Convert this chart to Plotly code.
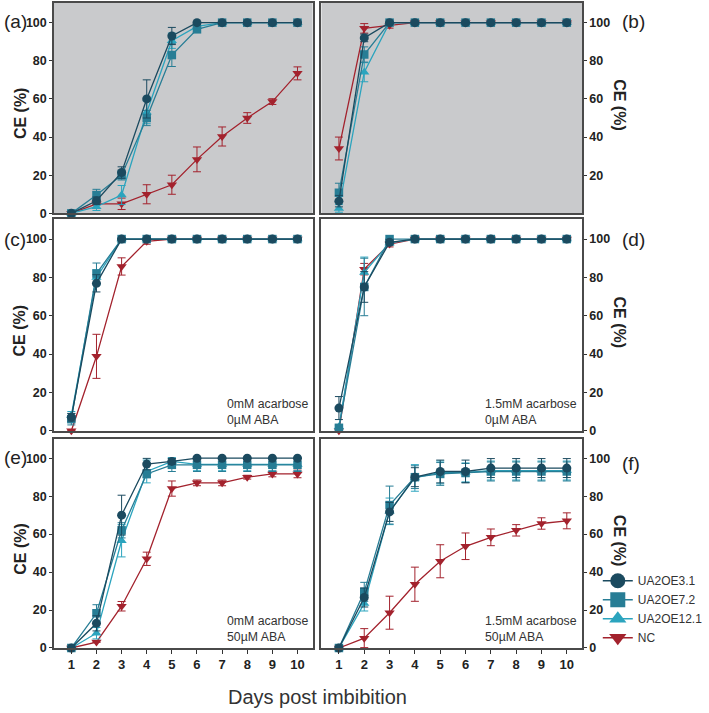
import plotly.graph_objects as go
from plotly.subplots import make_subplots

days = list(range(1, 11))
series_names = ["UA2OE3.1", "UA2OE7.2", "UA2OE12.1", "NC"]
panel_labels = ["(a)", "(b)", "(c)", "(d)", "(e)", "(f)"]
conditions = [None, None,
              "0mM acarbose<br>0µM ABA", "1.5mM acarbose<br>0µM ABA",
              "0mM acarbose<br>50µM ABA", "1.5mM acarbose<br>50µM ABA"]
y_ticks_left = [0, 20, 40, 60, 80, 100]
y_ticks_b = [20, 40, 60, 80, 100]
x_title = "Days post imbibition"
y_title = "CE (%)"

# ---- panel (a)
a_ua31 = [0, 6.6, 21.4, 60, 93, 100, 100, 100, 100, 100]
a_ua31_err = [0, 2, 3, 10, 4.5, 0, 0, 0, 0, 0]
a_ua72 = [0, 9.6, 20, 50, 83, 96.5, 100, 100, 100, 100]
a_ua72_err = [0, 3, 2.5, 4, 6, 1.5, 0, 0, 0, 0]
a_ua121 = [0, 3.5, 9.6, 53, 90.5, 98, 100, 100, 100, 100]
a_ua121_err = [0, 2, 5, 6, 4, 1, 0, 0, 0, 0]
a_nc = [0, 5, 5, 10, 15, 28.3, 40.3, 50, 58.6, 73.4]
a_nc_err = [0, 0, 3, 5, 5, 6.5, 5, 2.8, 1.5, 3.4]

# ---- panel (b)
b_ua31 = [6.4, 92, 100, 100, 100, 100, 100, 100, 100, 100]
b_ua31_err = [3, 2, 0, 0, 0, 0, 0, 0, 0, 0]
b_ua72 = [10.8, 83.3, 100, 100, 100, 100, 100, 100, 100, 100]
b_ua72_err = [5, 4, 0, 0, 0, 0, 0, 0, 0, 0]
b_ua121 = [2.6, 74, 100, 100, 100, 100, 100, 100, 100, 100]
b_ua121_err = [2, 5, 0, 0, 0, 0, 0, 0, 0, 0]
b_nc = [34, 97, 98.6, 100, 100, 100, 100, 100, 100, 100]
b_nc_err = [6, 2.5, 1.5, 0, 0, 0, 0, 0, 0, 0]

# ---- panel (c)
c_ua31 = [7, 76.9, 100, 100, 100, 100, 100, 100, 100, 100]
c_ua31_err = [2, 4.5, 0, 0, 0, 0, 0, 0, 0, 0]
c_ua72 = [6, 82, 100, 100, 100, 100, 100, 100, 100, 100]
c_ua72_err = [3, 5.5, 0, 0, 0, 0, 0, 0, 0, 0]
c_ua121 = [8, 80, 100, 100, 100, 100, 100, 100, 100, 100]
c_ua121_err = [2, 4, 0, 0, 0, 0, 0, 0, 0, 0]
c_nc = [0, 38.8, 85.7, 98.8, 100, 100, 100, 100, 100, 100]
c_nc_err = [0, 11.5, 4.5, 1.5, 0, 0, 0, 0, 0, 0]

# ---- panel (d)
d_ua31 = [11.8, 75, 98.3, 100, 100, 100, 100, 100, 100, 100]
d_ua31_err = [6, 8, 1.5, 0, 0, 0, 0, 0, 0, 0]
d_ua72 = [1.5, 75, 100, 100, 100, 100, 100, 100, 100, 100]
d_ua72_err = [1, 15, 0, 0, 0, 0, 0, 0, 0, 0]
d_ua121 = [2, 82.6, 98, 100, 100, 100, 100, 100, 100, 100]
d_ua121_err = [1, 8, 1, 0, 0, 0, 0, 0, 0, 0]
d_nc = [0, 84.3, 97.4, 100, 100, 100, 100, 100, 100, 100]
d_nc_err = [0, 3, 1.5, 0, 0, 0, 0, 0, 0, 0]

# ---- panel (e)
e_ua31 = [0, 13, 70, 96.9, 98.3, 100, 100, 100, 100, 100]
e_ua31_err = [0, 4, 10.5, 3, 1.5, 0, 0, 0, 0, 0]
e_ua72 = [0, 18.3, 62, 91.7, 96.5, 96.5, 96.5, 96.5, 96.5, 96.5]
e_ua72_err = [0, 4.5, 4, 2, 3.5, 3.5, 3.5, 3.5, 3.5, 3.5]
e_ua121 = [0, 7.8, 56.5, 93, 98.3, 96.7, 96.7, 96.7, 96.7, 96.7]
e_ua121_err = [0, 3, 8.5, 6, 2, 3.3, 3.3, 3.3, 3.3, 3.3]
e_nc = [0, 3.1, 22, 47, 84, 87, 87, 90, 91.7, 91.7]
e_nc_err = [0, 0, 2.5, 3.5, 4, 1.5, 1.5, 1, 1.5, 2]

# ---- panel (f)
f_ua31 = [0, 26.6, 71.7, 90, 93, 93, 94.8, 94.8, 94.8, 94.8]
f_ua31_err = [0, 5, 5, 5, 6, 6, 5, 5, 5, 5]
f_ua72 = [0, 29.6, 75.3, 90, 91.7, 92.2, 93, 93, 93, 93]
f_ua72_err = [0, 5, 10, 6, 6, 5, 5, 5, 5, 5]
f_ua121 = [0, 23.5, 72, 89.6, 92.5, 92.5, 93.5, 93.5, 93.5, 93.5]
f_ua121_err = [0, 4, 7, 7, 6, 5, 5, 5, 5, 5]
f_nc = [0, 5.2, 18.6, 33.6, 45.7, 53.6, 58.3, 62, 65.6, 67]
f_nc_err = [0, 5, 8.7, 9, 8.7, 7, 4.4, 3, 3, 4.2]

panels = [
    (a_ua31, a_ua31_err, a_ua72, a_ua72_err, a_ua121, a_ua121_err, a_nc, a_nc_err),
    (b_ua31, b_ua31_err, b_ua72, b_ua72_err, b_ua121, b_ua121_err, b_nc, b_nc_err),
    (c_ua31, c_ua31_err, c_ua72, c_ua72_err, c_ua121, c_ua121_err, c_nc, c_nc_err),
    (d_ua31, d_ua31_err, d_ua72, d_ua72_err, d_ua121, d_ua121_err, d_nc, d_nc_err),
    (e_ua31, e_ua31_err, e_ua72, e_ua72_err, e_ua121, e_ua121_err, e_nc, e_nc_err),
    (f_ua31, f_ua31_err, f_ua72, f_ua72_err, f_ua121, f_ua121_err, f_nc, f_nc_err),
]

colors = {"UA2OE3.1": "#1b4a5f", "UA2OE7.2": "#277d95", "UA2OE12.1": "#2ba4be", "NC": "#a3222d"}
symbols = {"UA2OE3.1": "circle", "UA2OE7.2": "square", "UA2OE12.1": "triangle-up", "NC": "triangle-down"}
msize = {"UA2OE3.1": 9, "UA2OE7.2": 8.5, "UA2OE12.1": 9, "NC": 9}

W, H = 709, 713
ML, MR, MT, MB = 54, 120, 1, 65
PW, PH = W - ML - MR, H - MT - MB


def px_x(px):
    return (px - ML) / PW


def px_y(py):
    return (H - MB - py) / PH


col_dom = [[px_x(54), px_x(316)], [px_x(325), px_x(589)]]
row_dom = [[px_y(212), px_y(1)], [px_y(430), px_y(218)], [px_y(648), px_y(438)]]

fig = make_subplots(rows=3, cols=2)

FONT = "Liberation Sans, Arial, sans-serif"
FRAME = "#4a4a4a"

for i, pdata in enumerate(panels):
    r, c = i // 2 + 1, i % 2 + 1
    ua31, ua31e, ua72, ua72e, ua121, ua121e, nc, nce = pdata
    series = {"UA2OE3.1": (ua31, ua31e), "UA2OE7.2": (ua72, ua72e),
              "UA2OE12.1": (ua121, ua121e), "NC": (nc, nce)}
    for name in ["NC", "UA2OE12.1", "UA2OE7.2", "UA2OE3.1"]:
        vals, errs = series[name]
        fig.add_trace(go.Scatter(
            x=days, y=vals, mode="lines+markers", name=name, showlegend=False,
            line=dict(color=colors[name], width=1.3),
            marker=dict(color=colors[name], symbol=symbols[name], size=msize[name]),
            error_y=dict(type="data", array=errs, visible=True, color=colors[name],
                         thickness=1, width=4),
            cliponaxis=False,
        ), row=r, col=c)

# legend-only traces
for name in series_names:
    fig.add_trace(go.Scatter(
        x=[None], y=[None], mode="lines+markers", name=name, showlegend=True,
        line=dict(color=colors[name], width=1.3),
        marker=dict(color=colors[name], symbol=symbols[name], size=15),
    ), row=3, col=2)

for i in range(6):
    r, c = i // 2, i % 2
    ax = "" if i == 0 else str(i + 1)
    xa = "xaxis" + ax
    ya = "yaxis" + ax
    bottom = (r == 2)
    fig.layout[xa].update(
        domain=col_dom[c], range=[0.31, 10.6], tickvals=days,
        showticklabels=bottom, ticks="outside" if bottom else "",
        ticklen=4, tickwidth=1.2, tickcolor="#333",
        tickfont=dict(family=FONT, size=13, color="#222", weight="bold"),
        showline=True, mirror=True, linecolor=FRAME, linewidth=1.5,
        showgrid=False, zeroline=False,
    )
    fig.layout[ya].update(
        domain=row_dom[r], range=[0, 110.3],
        tickvals=(y_ticks_b if i == 1 else y_ticks_left),
        side="left" if c == 0 else "right",
        ticks="outside", ticklen=3, tickwidth=1.2, tickcolor="#333",
        tickfont=dict(family=FONT, size=12.5, color="#222", weight="bold"),
        showline=True, mirror=True, linecolor=FRAME, linewidth=1.5,
        showgrid=False, zeroline=False,
    )

shapes = []
for i in range(2):
    ax = "" if i == 0 else str(i + 1)
    shapes.append(dict(type="rect", xref="x" + ax + " domain", yref="y" + ax + " domain",
                       x0=0, x1=1, y0=0, y1=1, fillcolor="#c9cacc", line=dict(width=0),
                       layer="below"))

annotations = []
row_centers = [106, 324, 543]
label_y = [20, 238, 457]
for i in range(6):
    r, c = i // 2, i % 2
    # panel labels
    annotations.append(dict(
        text=panel_labels[i], x=px_x(1 if c == 0 else 628), y=px_y(label_y[r] + (6 if i == 5 else 0)),
        xref="paper", yref="paper", showarrow=False, xanchor="left", yanchor="middle",
        font=dict(family=FONT, size=19, color="#222")))
    # y titles
    annotations.append(dict(
        text=y_title, x=px_x(20 if c == 0 else 627), y=px_y(row_centers[r] + (5 if c == 0 else -3)),
        xref="paper", yref="paper", showarrow=False, xanchor="center", yanchor="middle",
        textangle=-90 if c == 0 else 90,
        font=dict(family=FONT, size=16, color="#222", weight="bold")))
    if conditions[i]:
        ax = "" if i == 0 else str(i + 1)
        annotations.append(dict(
            text=conditions[i], x=0.99, y=0.01, xref="x" + ax + " domain",
            yref="y" + ax + " domain", showarrow=False, xanchor="right", yanchor="bottom",
            align="left", font=dict(family=FONT, size=12.3, color="#333")))

annotations.append(dict(
    text=x_title, x=px_x(321), y=px_y(697), xref="paper", yref="paper", showarrow=False,
    xanchor="center", yanchor="middle", font=dict(family=FONT, size=20, color="#333")))

fig.update_layout(
    width=W, height=H, margin=dict(l=ML, r=MR, t=MT, b=MB),
    paper_bgcolor="white", plot_bgcolor="white",
    shapes=shapes, annotations=annotations,
    legend=dict(x=px_x(605), y=px_y(566), xanchor="left", yanchor="top",
                font=dict(family=FONT, size=12, color="#333"),
                bgcolor="rgba(0,0,0,0)", tracegroupgap=0, itemwidth=30),
    showlegend=True,
)

fig.write_html("out.html", post_script="document.body.style.margin='0px';",
               config={"displayModeBar": False})
